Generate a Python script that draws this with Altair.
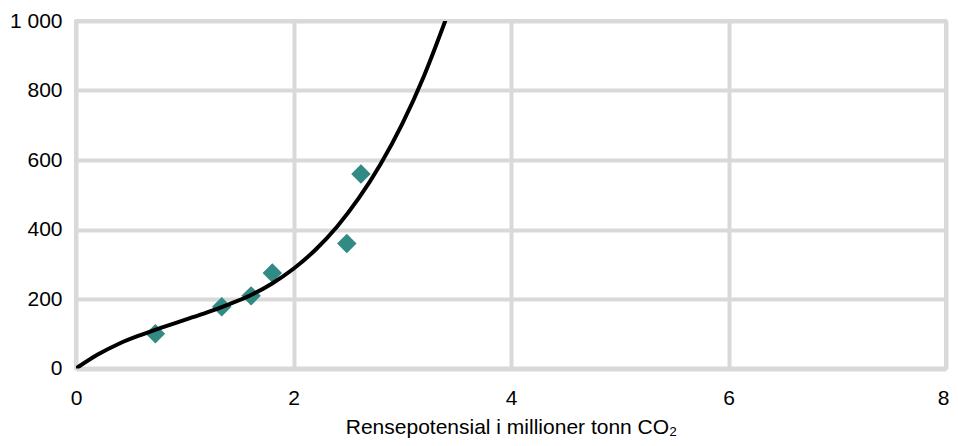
import altair as alt
import pandas as pd

# Observed points (diamonds)
pt_x = [0.73, 1.34, 1.61, 1.805, 2.49, 2.62]
pt_y = [100, 178, 209, 275, 360, 560]

# Trend curve
curve_x = [0, 0.2, 0.4, 0.6, 0.8, 1.0, 1.2, 1.4, 1.6, 1.8, 2.0, 2.2, 2.4, 2.6, 2.8, 3.0, 3.2, 3.4]
curve_y = [0, 40, 72, 97, 119, 140, 161, 184, 210, 244, 287, 341, 408, 490, 588, 704, 842, 1004]

x_ticks = [0, 2, 4, 6, 8]
y_ticks = [0, 200, 400, 600, 800, 1000]

pts = pd.DataFrame({"x": pt_x, "y": pt_y})
curve = pd.DataFrame({"x": curve_x, "y": curve_y})

FONT = "Liberation Sans"

xscale = alt.Scale(domain=[0, 8], nice=False, zero=False)
yscale = alt.Scale(domain=[0, 1000], nice=False)

xaxis = alt.Axis(values=x_ticks, title="Rensepotensial i millioner tonn CO₂",
                 grid=True, gridColor="#d9d9d9", gridWidth=4, domain=False, ticks=False,
                 labelFont=FONT, labelFontSize=21, labelColor="#000000", labelPadding=19,
                 labelExpr="format(datum.value, 'd')",
                 labelOffset=alt.condition("datum.value == 8", alt.value(-3), alt.value(0)),
                 titleFont=FONT, titleFontSize=21, titleFontWeight="normal", titleColor="#000000",
                 titlePadding=8, labelFlush=False)
yaxis = alt.Axis(values=y_ticks, title=None,
                 grid=True, gridColor="#d9d9d9", gridWidth=4, domain=False, ticks=False,
                 labelFont=FONT, labelFontSize=21, labelColor="#000000", labelPadding=14,
                 labelExpr="replace(format(datum.value, ','), ',', ' ')", labelFlush=False)

points = alt.Chart(pts).mark_point(shape="diamond", filled=True, size=380,
                                   color="#318a84", opacity=1).encode(
    x=alt.X("x:Q", scale=xscale, axis=xaxis),
    y=alt.Y("y:Q", scale=yscale, axis=yaxis),
)

line = alt.Chart(curve).mark_line(color="#000000", strokeWidth=4,
                                  interpolate="monotone", clip=True).encode(
    x=alt.X("x:Q", scale=xscale),
    y=alt.Y("y:Q", scale=yscale),
)

chart = alt.layer(points, line).properties(
    width=870, height=347.5,
    autosize=alt.AutoSizeParams(type="none"),
    padding={"left": 68, "top": 13, "right": 4, "bottom": 69},
).configure_view(stroke="#d9d9d9", strokeWidth=4, strokeJoin="round")

chart.save("out.html", embed_options={"renderer": "svg", "actions": False})
